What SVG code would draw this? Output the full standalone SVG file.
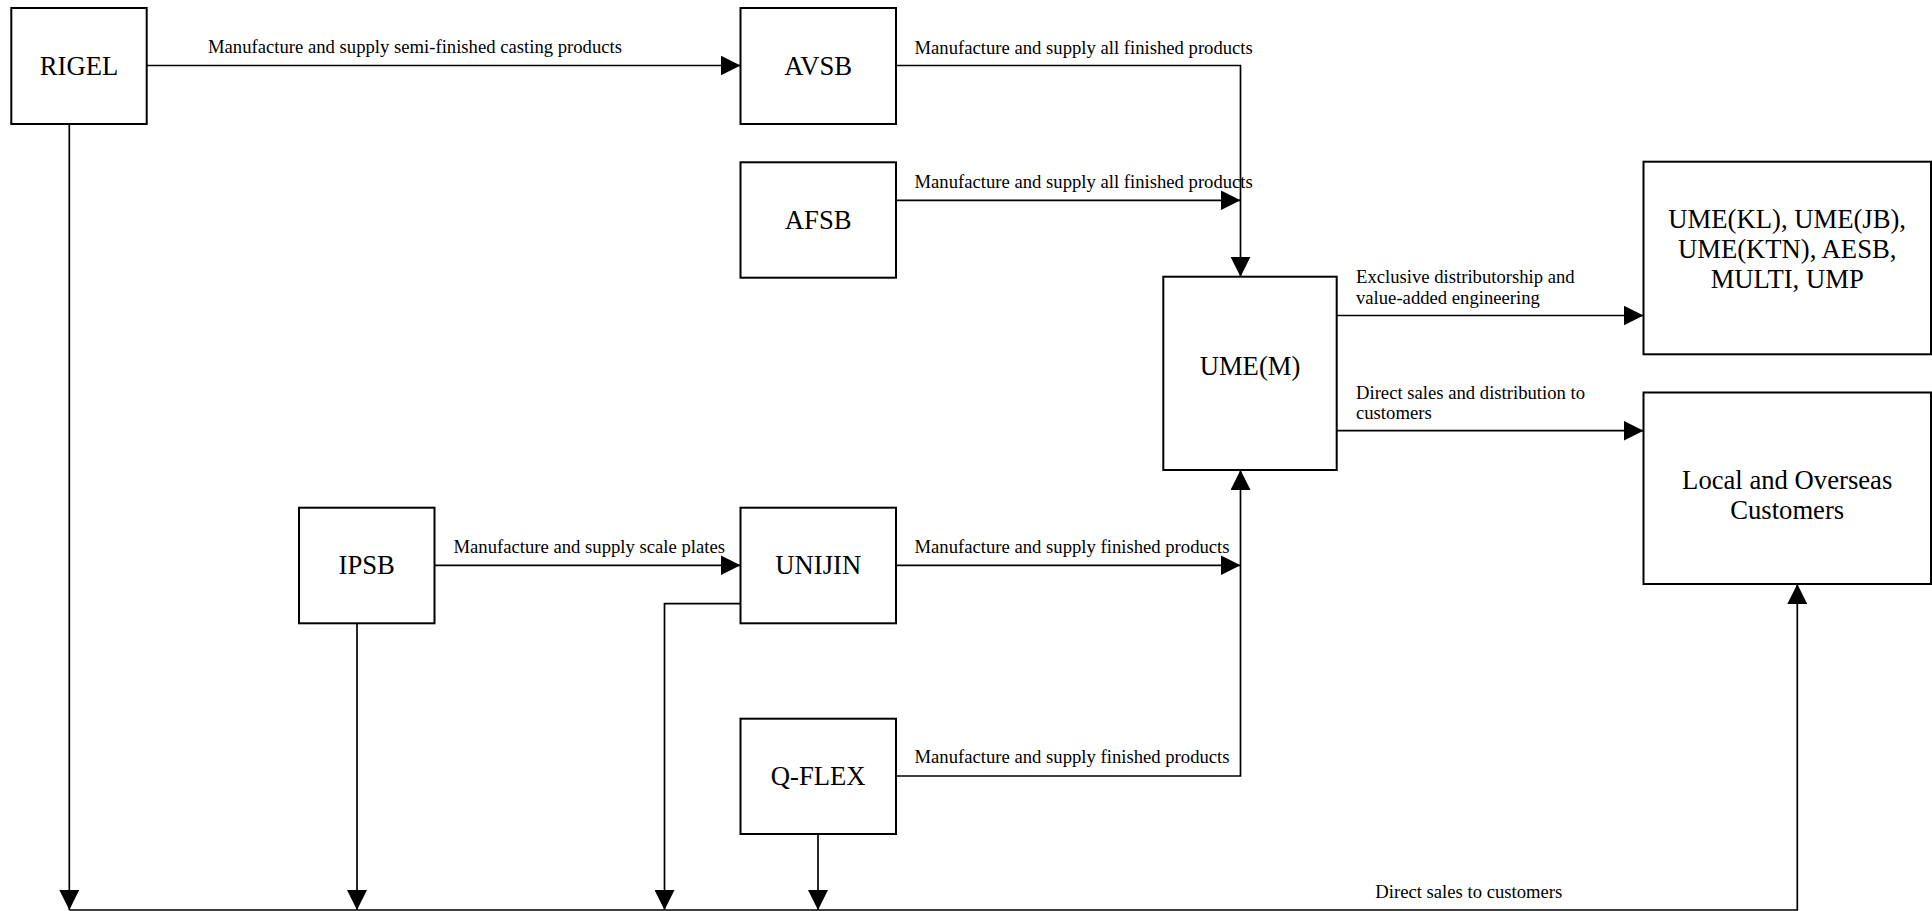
<svg xmlns="http://www.w3.org/2000/svg" width="1932" height="911" viewBox="0 0 1932 911">
<style>
.box{fill:#fff;stroke:#000;stroke-width:2}
.big{font-family:"Liberation Serif","Times New Roman",serif;font-size:26.67px;fill:#000;text-anchor:middle}
.lbl{font-family:"Liberation Serif","Times New Roman",serif;font-size:18.67px;fill:#000}
.c{fill:none;stroke:#000;stroke-width:1.7}
</style>
<defs>
<marker id="ah" markerUnits="userSpaceOnUse" markerWidth="20" markerHeight="20" refX="20" refY="10" orient="auto">
<path d="M0,0 L20,10 L0,20 Z" fill="#000"/>
</marker>
</defs>
<rect width="1932" height="911" fill="#fff"/>
<g id="connectors">
<path class="c" d="M146.7,65.5 H740.5" marker-end="url(#ah)"/>
<path class="c" d="M896,65.5 H1240.5 V276.7" marker-end="url(#ah)"/>
<path class="c" d="M896,200.3 H1240.5" marker-end="url(#ah)"/>
<path class="c" d="M1336.7,315.5 H1643.5" marker-end="url(#ah)"/>
<path class="c" d="M1336.7,430.7 H1643.5" marker-end="url(#ah)"/>
<path class="c" d="M434.5,565.3 H740.5" marker-end="url(#ah)"/>
<path class="c" d="M896,565.3 H1240.5" marker-end="url(#ah)"/>
<path class="c" d="M896,776 H1240.5 V470" marker-end="url(#ah)"/>
<path class="c" d="M69.3,124 V910" marker-end="url(#ah)"/>
<path class="c" d="M357,623.3 V910" marker-end="url(#ah)"/>
<path class="c" d="M740.5,603.7 H664.5 V910" marker-end="url(#ah)"/>
<path class="c" d="M818,834 V910" marker-end="url(#ah)"/>
<path class="c" d="M69.3,910 H1797.3 V584" marker-end="url(#ah)"/>
<text class="lbl" x="208" y="53.3">Manufacture and supply semi-finished casting products</text>
<text class="lbl" x="914.5" y="54">Manufacture and supply all finished products</text>
<text class="lbl" x="914.5" y="188.3">Manufacture and supply all finished products</text>
<text class="lbl" x="1356" y="283.3">Exclusive distributorship and</text>
<text class="lbl" x="1356" y="303.5">value-added engineering</text>
<text class="lbl" x="1356" y="399.3">Direct sales and distribution to</text>
<text class="lbl" x="1356" y="419.3">customers</text>
<text class="lbl" x="453.5" y="552.7">Manufacture and supply scale plates</text>
<text class="lbl" x="914.5" y="552.7">Manufacture and supply finished products</text>
<text class="lbl" x="914.5" y="763.3">Manufacture and supply finished products</text>
<text class="lbl" x="1375.3" y="898.3">Direct sales to customers</text>
</g>
<g id="rigel"><rect class="box" x="11.3" y="8" width="135.4" height="116"/><text class="big" x="79" y="74.5">RIGEL</text></g>
<g id="avsb"><rect class="box" x="740.5" y="8" width="155.5" height="116"/><text class="big" x="818.2" y="74.5">AVSB</text></g>
<g id="afsb"><rect class="box" x="740.5" y="162.3" width="155.5" height="115.4"/><text class="big" x="818.2" y="229">AFSB</text></g>
<g id="umem"><rect class="box" x="1163.3" y="276.7" width="173.4" height="193.3"/><text class="big" x="1250" y="375">UME(M)</text></g>
<g id="umekl"><rect class="box" x="1643.5" y="161.7" width="287.5" height="192.6"/>
<text class="big" x="1787.2" y="228">UME(KL), UME(JB),</text>
<text class="big" x="1787.2" y="258.3">UME(KTN), AESB,</text>
<text class="big" x="1787.2" y="288.3">MULTI, UMP</text></g>
<g id="customers"><rect class="box" x="1643.5" y="392.5" width="287.5" height="191.5"/>
<text class="big" x="1787.2" y="489.3">Local and Overseas</text>
<text class="big" x="1787.2" y="519.3">Customers</text></g>
<g id="ipsb"><rect class="box" x="299" y="507.7" width="135.5" height="115.6"/><text class="big" x="366.7" y="574.3">IPSB</text></g>
<g id="unijin"><rect class="box" x="740.5" y="507.7" width="155.5" height="115.6"/><text class="big" x="818.2" y="574.3">UNIJIN</text></g>
<g id="qflex"><rect class="box" x="740.5" y="718.7" width="155.5" height="115.3"/><text class="big" x="818.2" y="785">Q-FLEX</text></g>
</svg>
